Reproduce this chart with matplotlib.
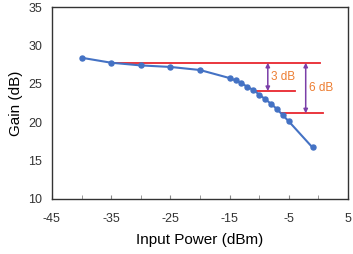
import matplotlib
matplotlib.use("Agg")
import matplotlib.pyplot as plt
from matplotlib.ticker import MultipleLocator

# data
pin = [-40, -35, -30, -25, -20, -15, -14, -13, -12, -11, -10, -9, -8, -7, -6, -5, -1]
gain = [28.4, 27.75, 27.4, 27.2, 26.8, 25.75, 25.45, 25.1, 24.6, 24.2, 23.6,
        23.0, 22.4, 21.7, 20.9, 20.1, 16.7]

ref_levels = [27.75, 24.05, 21.15]
ref_spans = [(-35, 0.2), (-10.5, -3.9), (-6.3, 0.7)]
arrow_x = [-8.55, -2.15]
arrow_labels = ["3 dB", "6 dB"]
label_pos = [(-8.0, 25.85), (-1.6, 24.4)]

BLUE = "#4472C4"
RED = "#E8262E"
PURPLE = "#7B3FA8"
ORANGE = "#ED7D31"

plt.rcParams["font.family"] = ["Liberation Sans", "DejaVu Sans"]
plt.rcParams["axes.unicode_minus"] = False

fig = plt.figure(figsize=(3.53, 2.54), dpi=100)
ax = fig.add_axes([0.147, 0.217, 0.839, 0.755])

# reference lines
for lvl, (x0, x1) in zip(ref_levels, ref_spans):
    ax.plot([x0, x1], [lvl, lvl], color=RED, lw=1.3, zorder=2)

# gain curve
ax.plot(pin, gain, color=BLUE, lw=1.5, marker="o", ms=3.6, zorder=3)

# compression arrows
for xa, lo, txt, (tx, ty) in zip(arrow_x, [ref_levels[1], ref_levels[2]],
                                 arrow_labels, label_pos):
    ax.annotate("", xy=(xa, lo), xytext=(xa, ref_levels[0]),
                arrowprops=dict(arrowstyle="<|-|>", color=PURPLE, lw=1.1,
                                mutation_scale=6, shrinkA=0, shrinkB=0))
    ax.text(tx, ty, txt, color=ORANGE, fontsize=8.5, va="center", ha="left")

ax.set_xlim(-45, 5)
ax.set_ylim(10, 35)
ax.set_xticks(range(-45, 6, 10))
ax.xaxis.set_minor_locator(MultipleLocator(5))
ax.set_yticks(range(10, 36, 5))
ax.tick_params(axis="x", which="both", direction="in", length=3, labelsize=9,
               color="#888888", pad=10, labelcolor="#333333")
ax.tick_params(axis="y", length=0, labelsize=9, pad=7, labelcolor="#333333")
ax.set_xlabel("Input Power (dBm)", fontsize=11, labelpad=6)
ax.set_ylabel("Gain (dB)", fontsize=11, labelpad=4)
for s in ax.spines.values():
    s.set_color("#333333")
    s.set_linewidth(1.0)

fig.savefig("out.png", dpi=100)
